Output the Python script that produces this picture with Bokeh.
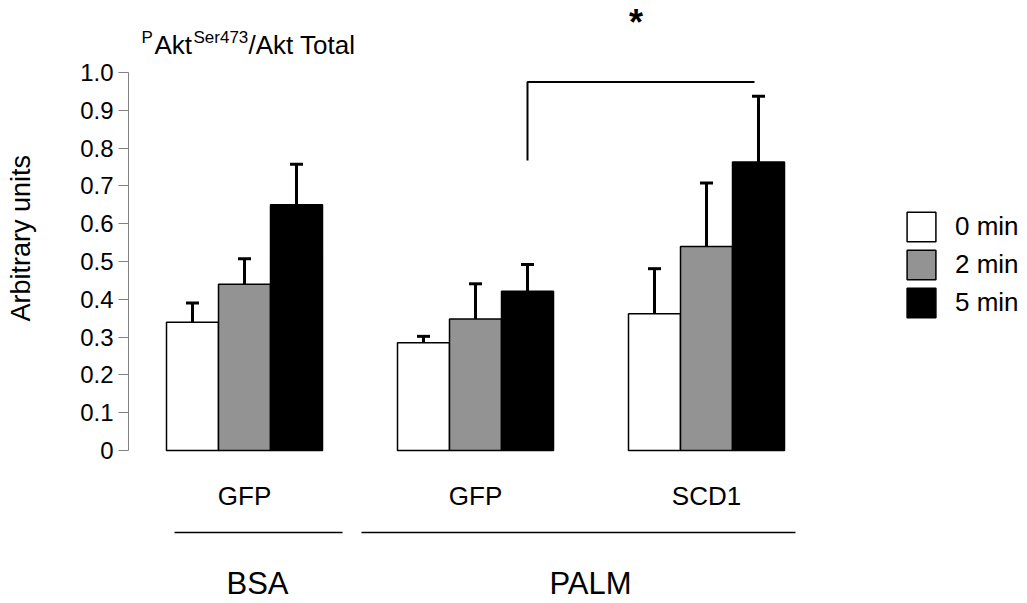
from bokeh.plotting import figure
from bokeh.models import Range1d, FixedTicker, Legend, LegendItem, ColumnDataSource
from bokeh.core.properties import value
from bokeh.embed import file_html
from bokeh.resources import INLINE

# ---------------- data ----------------
groups = ["GFP", "GFP", "SCD1"]
treatments = ["BSA", "PALM"]
series = ["0 min", "2 min", "5 min"]
mean_0 = [0.339, 0.285, 0.362]
sem_0 = [0.051, 0.017, 0.119]
mean_2 = [0.440, 0.348, 0.540]
sem_2 = [0.067, 0.093, 0.168]
mean_5 = [0.650, 0.421, 0.763]
sem_5 = [0.107, 0.071, 0.174]
ytick_values = [0.0, 0.1, 0.2, 0.3, 0.4, 0.5, 0.6, 0.7, 0.8, 0.9, 1.0]
ytick_labels = ["0", "0.1", "0.2", "0.3", "0.4", "0.5", "0.6", "0.7", "0.8", "0.9", "1.0"]
y_title = "Arbitrary units"
bracket_level = 0.975
bracket_drop = 0.767
significance = "*"

# ---------------- layout ----------------
FONT = value("Liberation Sans")
Y0, SCALE = 450.0, 378.0          # page row of value 0, px per unit


def py(row):
    return (Y0 - row) / SCALE


GROUP_START, GROUP_STEP, BAR_W = 244.0, 231.0, 52.0
centers = [GROUP_START + GROUP_STEP * i for i in range(len(groups))]

p = figure(width=1027, height=603, output_backend="svg", toolbar_location=None,
           x_range=Range1d(128, 1027), y_range=Range1d(py(603), py(0)),
           x_axis_location=None, min_border_left=128, min_border_right=0,
           min_border_top=0, min_border_bottom=0)
p.outline_line_color = None
p.grid.visible = False
p.background_fill_color = "white"

yax = p.yaxis[0]
yax.bounds = (0, 1)
yax.ticker = FixedTicker(ticks=ytick_values)
yax.major_label_overrides = {v: l for v, l in zip(ytick_values, ytick_labels)}
yax.minor_tick_line_color = None
yax.major_tick_out = 10
yax.major_tick_in = 0
yax.axis_line_color = "#808080"
yax.major_tick_line_color = "#808080"
yax.major_label_text_font = "Liberation Sans"
yax.major_label_text_font_size = "24px"
yax.major_label_text_color = "black"
yax.major_label_standoff = 5
# the label is centred on the whole frame; leading no-break spaces lift it to
# sit beside the 0-1 part of the axis as in the reference
yax.axis_label = "\u00a0" * 17 + y_title
yax.axis_label_text_font = "Liberation Sans"
yax.axis_label_text_font_size = "27px"
yax.axis_label_text_font_style = "normal"
yax.axis_label_text_color = "black"
yax.axis_label_standoff = 41

means = [mean_0, mean_2, mean_5]
sems = [sem_0, sem_2, sem_5]
fills = ["white", "#939393", "black"]
CAP = 13
renderers = []
for j, (m, s, fc) in enumerate(zip(means, sems, fills)):
    xs = [c + (j - 1) * BAR_W for c in centers]
    src = ColumnDataSource(dict(x=xs, top=m, up=[a + b for a, b in zip(m, s)],
                                cl=[x - CAP / 2 for x in xs], cr=[x + CAP / 2 for x in xs]))
    p.segment(x0="x", y0="top", x1="x", y1="up", source=src, line_color="black", line_width=3)
    p.segment(x0="cl", y0="up", x1="cr", y1="up", source=src, line_color="black", line_width=3)
    r = p.vbar(x="x", top="top", bottom=0, width=BAR_W, source=src, fill_color=fc,
               line_color="black", line_width=1.5)
    renderers.append(r)

# significance bracket between PALM GFP 5 min and PALM SCD1 5 min
bx0 = centers[1] + BAR_W
bx1 = centers[2] + BAR_W - 4
p.line(x=[bx0, bx0, bx1], y=[bracket_drop, bracket_level, bracket_level],
       line_color="black", line_width=2)
p.text(x=[(bx0 + bx1) / 2 - 5], y=[py(22)], text=[significance], text_font=FONT,
       text_font_size=value("36px"), text_font_style="bold", text_align="center",
       text_baseline="middle", text_color="black")

# title with superscripts
p.text(x=[141], y=[py(37)], text=["P"], text_font=FONT, text_font_size=value("17px"),
       text_baseline="alphabetic", text_color="black")
p.text(x=[154], y=[py(44)], text=["Akt"], text_font=FONT, text_font_size=value("26px"),
       text_baseline="alphabetic", text_color="black")
p.text(x=[193], y=[py(37)], text=["Ser473"], text_font=FONT, text_font_size=value("17px"),
       text_baseline="alphabetic", text_color="black")
p.text(x=[248], y=[py(44)], text=["/Akt Total"], text_font=FONT, text_font_size=value("26px"),
       text_baseline="alphabetic", text_color="black")

# category labels
p.text(x=centers, y=[py(495)] * len(groups), text=groups, text_font=FONT,
       text_font_size=value("26px"), text_align="center", text_baseline="middle",
       text_color="black")
# treatment lines and labels
tr_x0 = [174, 361]
tr_x1 = [342, 795]
p.segment(x0=tr_x0, y0=[py(532)] * 2, x1=tr_x1, y1=[py(532)] * 2, line_color="black",
          line_width=1.5)
p.text(x=[257, 590], y=[py(583)] * 2, text=treatments, text_font=FONT,
       text_font_size=value("31px"), text_align="center", text_baseline="middle",
       text_color="black")

legend = Legend(items=[LegendItem(label=s, renderers=[r]) for s, r in zip(series, renderers)],
                location=(775, 282), orientation="vertical", glyph_width=36, glyph_height=37,
                label_height=37, spacing=1, padding=0, margin=0, label_standoff=16,
                border_line_color=None, background_fill_alpha=0,
                label_text_font="Liberation Sans", label_text_font_size="26px",
                label_text_color="black")
p.add_layout(legend)

open("out.html", "w").write(file_html(p, INLINE))
